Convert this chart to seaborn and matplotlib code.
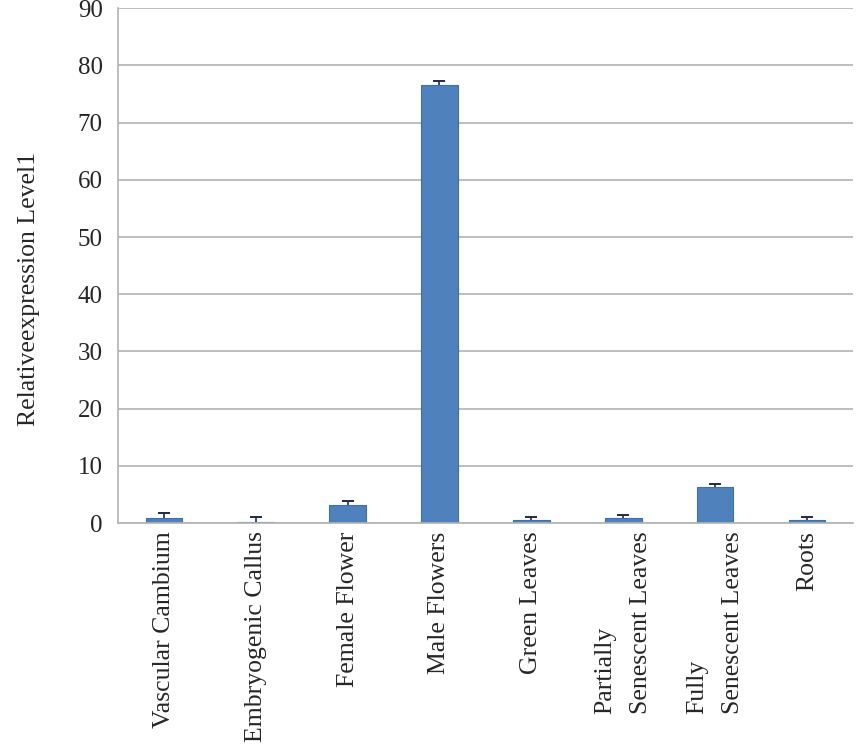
import matplotlib
matplotlib.use("Agg")
import matplotlib.pyplot as plt
import numpy as np
import pandas as pd
import seaborn as sns

# values
tissues = ["Vascular Cambium", "Embryogenic Callus", "Female Flower", "Male Flowers",
           "Green Leaves", "Partially\nSenescent Leaves", "Fully\nSenescent Leaves", "Roots"]
expression = [0.85, 0.2, 3.1, 76.6, 0.5, 0.85, 6.3, 0.5]
error_up = [0.9, 0.9, 0.8, 0.6, 0.6, 0.5, 0.6, 0.6]
y_ticks = [0, 10, 20, 30, 40, 50, 60, 70, 80, 90]

BAR_COLOR = "#4F81BD"
GRID_COLOR = "#B3B3B3"
ERR_COLOR = "#1F2A44"

sns.set_style("white")
plt.rcParams["font.family"] = ["Liberation Serif", "DejaVu Serif"]

df = pd.DataFrame({"tissue": tissues, "value": expression})

fig = plt.figure(figsize=(8.58, 7.44), dpi=100)
ax = fig.add_axes([0.1375, 0.297, 0.8565, 0.692])

ax.yaxis.grid(True, color=GRID_COLOR, linewidth=1.2)
ax.set_axisbelow(True)

sns.barplot(data=df, x="tissue", y="value", color=BAR_COLOR, width=0.4,
            edgecolor="#3F6FA8", linewidth=0.8, saturation=1, ax=ax)

# upper-only error bars with a cap on top (Excel style)
pos = np.arange(len(tissues))
tops = np.array(expression) + np.array(error_up)
ax.errorbar(pos, expression, yerr=[np.zeros(len(tissues)), error_up], fmt="none",
            ecolor=ERR_COLOR, elinewidth=1.2, capsize=0)
ax.plot(pos, tops, linestyle="none", marker="_", markersize=9,
        markeredgewidth=1.4, color=ERR_COLOR)

ax.set_xlim(-0.5, len(tissues) - 0.5)
ax.set_ylim(0, 90)
ax.set_yticks(y_ticks)
ax.set_xlabel("")
ax.set_ylabel("Relativeexpression Level1", fontsize=18.5)
ax.yaxis.set_label_coords(-0.1055, 0.454)

ax.tick_params(axis="y", labelsize=18, length=5, color=GRID_COLOR, width=1.2, pad=6)
ax.tick_params(axis="x", which="major", labelsize=18.5, length=0, pad=6, labelrotation=90)
for lbl in ax.get_xticklabels():
    lbl.set_multialignment("left")
    lbl.set_linespacing(1.8)
ax.set_xticks(np.arange(-0.5, len(tissues)), minor=True)
ax.tick_params(axis="x", which="minor", length=5, color=GRID_COLOR, width=1.2, direction="out")

for side in ["top", "right"]:
    ax.spines[side].set_visible(False)
for side in ["left", "bottom"]:
    ax.spines[side].set_color(GRID_COLOR)
    ax.spines[side].set_linewidth(1.2)

fig.savefig("out.png", dpi=100)
